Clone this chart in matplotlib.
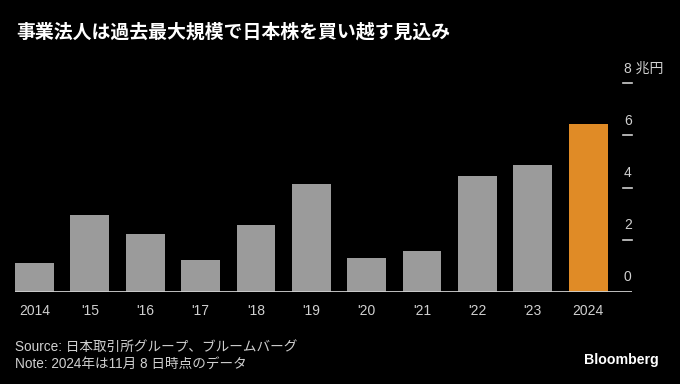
import matplotlib
matplotlib.use("Agg")
import matplotlib.pyplot as plt
import matplotlib.transforms as mtransforms

years = ["2014", "'15", "'16", "'17", "'18", "'19", "'20", "'21", "'22", "'23", "2024"]
values = [1.09, 2.96, 2.22, 1.23, 2.55, 4.15, 1.28, 1.55, 4.45, 4.88, 6.42]
yticks = [0, 2, 4, 6, 8]
ytick_labels = ["0", "2", "4", "6", "8 兆円"]

title = "事業法人は過去最大規模で日本株を買い越す見込み"
source = "Source: 日本取引所グループ、ブルームバーグ"
note = "Note: 2024年は11月 8 日時点のデータ"

FAM = ["Liberation Sans", "Noto Sans CJK JP", "DejaVu Sans"]
plt.rcParams["font.family"] = FAM

BG = "#000000"
GRAY = "#9b9b9b"
ORANGE = "#e08b26"
TXT = "#d0d0d0"

fig = plt.figure(figsize=(6.8, 3.84), dpi=100, facecolor=BG)
ax = fig.add_axes([15/680, 92.3/384, 617/680, 208.4/384], facecolor=BG)

colors = [GRAY] * (len(values) - 1) + [ORANGE]
x = list(range(len(values)))
ax.bar(x, values, width=0.7, color=colors, zorder=2)

ax.set_xlim(-0.35, 10.79)
ax.set_ylim(0, 8)
for s in ax.spines.values():
    s.set_visible(False)
ax.axhline(0, color="#cfcfcf", lw=1.3, zorder=3)

ax.set_xticks(x)
ax.set_xticklabels(years, fontsize=10, color=TXT)
ax.tick_params(axis="x", length=0, pad=9)
ax.set_yticks([])

trans = mtransforms.blended_transform_factory(ax.transAxes, ax.transData)
for v, lab in zip(yticks, ytick_labels):
    if v > 0:
        ax.plot([0.985, 1.0], [v, v], transform=trans, color="#cfcfcf", lw=1.2, clip_on=False)
    ax.annotate(lab, xy=(0.987, v), xycoords=trans, xytext=(0, 10.5),
                textcoords="offset points", va="center", ha="left",
                fontsize=10, color=TXT, annotation_clip=False)

fig.text(16/680, 1 - 31.7/384, title, fontsize=13.6, fontweight="bold",
         color="white", va="center", ha="left", family=["Noto Sans CJK JP", "DejaVu Sans"])
fig.text(15/680, 1 - 347/384, source, fontsize=9.8, color=TXT, va="center", ha="left")
fig.text(15/680, 1 - 364/384, note, fontsize=9.8, color=TXT, va="center", ha="left")
fig.text(659/680, 1 - 360/384, "Bloomberg", fontsize=10.2, fontweight="bold",
         color="white", va="center", ha="right")

fig.savefig("out.png", dpi=100, facecolor=BG)
